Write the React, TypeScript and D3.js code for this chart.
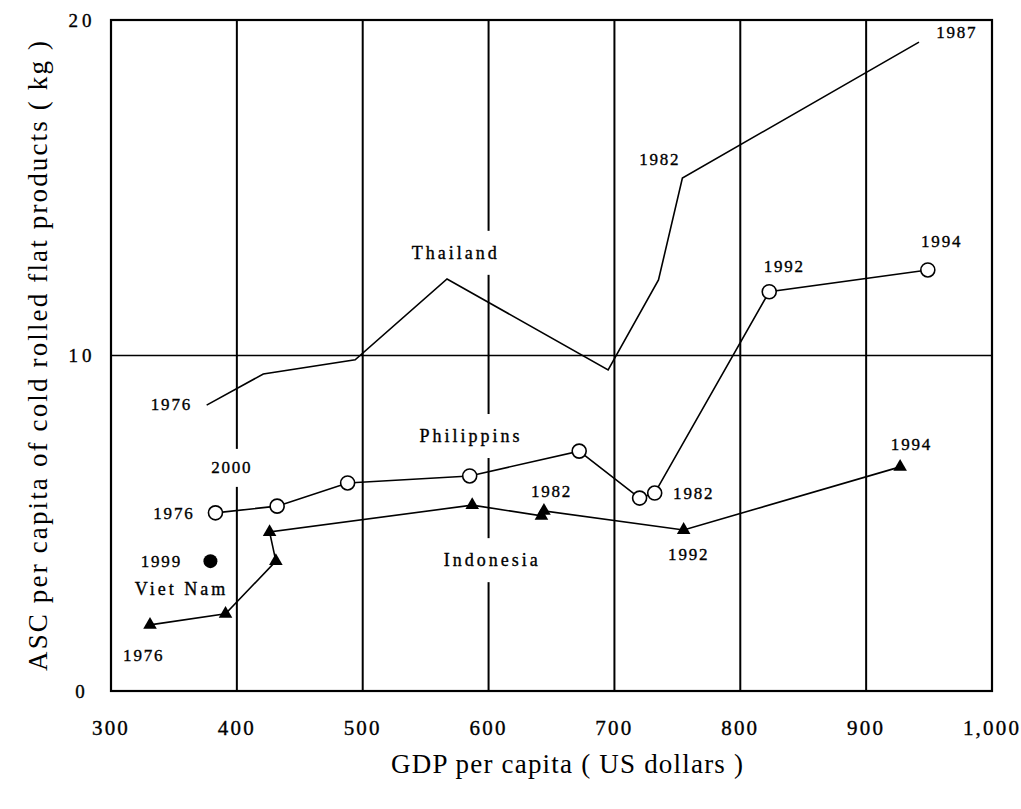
import React from "react";
import * as d3 from "d3";

// GDP per capita (US$) vs apparent steel consumption of cold rolled flat products (kg/capita)
const thailandGdp = [376, 421, 494, 567, 695, 735, 754, 942];
const thailandAsc = [8.52, 9.45, 9.87, 12.28, 9.57, 12.25, 15.29, 19.34];

const philippinesGdp = [383, 432, 488, 585, 672, 720, 732, 823, 949];
const philippinesAsc = [5.31, 5.51, 6.2, 6.41, 7.15, 5.75, 5.9, 11.9, 12.55];

const indonesiaGdp = [331, 391, 431, 426, 587, 642, 644, 755, 927];
const indonesiaAsc = [1.97, 2.3, 3.87, 4.74, 5.54, 5.22, 5.37, 4.8, 6.68];

const vietnamGdp = [379];
const vietnamAsc = [3.87];

const xTicks = [300, 400, 500, 600, 700, 800, 900, 1000];
const yTicks = [0, 10, 20];

// annotation text, anchored in data units
const nameLabels = [
  { text: "Thailand", gdp: 574, asc: 13.06 },
  { text: "Philippins", gdp: 586, asc: 7.6 },
  { text: "Indonesia", gdp: 603, asc: 3.9 },
  { text: "Viet Nam", gdp: 356, asc: 3.04 },
];
const yearLabels = [
  { text: "1976", gdp: 348, asc: 8.55 },
  { text: "1982", gdp: 736, asc: 15.83 },
  { text: "1987", gdp: 972, asc: 19.64 },
  { text: "1976", gdp: 350, asc: 5.28 },
  { text: "2000", gdp: 396, asc: 6.65 },
  { text: "1982", gdp: 763, asc: 5.9 },
  { text: "1992", gdp: 835, asc: 12.64 },
  { text: "1994", gdp: 960, asc: 13.41 },
  { text: "1999", gdp: 340, asc: 3.87 },
  { text: "1976", gdp: 326, asc: 1.07 },
  { text: "1982", gdp: 650, asc: 5.96 },
  { text: "1992", gdp: 759, asc: 4.08 },
  { text: "1994", gdp: 936, asc: 7.36 },
];

const W = 1021;
const H = 809;
const left = 111;
const right = 992;
const top = 20;
const bottom = 691;
const font = "'Liberation Serif', 'DejaVu Serif', serif";

const App = () => {
  const x = d3.scaleLinear().domain([300, 1000]).range([left, right]);
  const y = d3.scaleLinear().domain([0, 20]).range([bottom, top]);

  const line = d3
    .line<[number, number]>()
    .x((d) => x(d[0]))
    .y((d) => y(d[1]));

  const zip = (a: number[], b: number[]) => a.map((v, i) => [v, b[i]] as [number, number]);
  const thai = zip(thailandGdp, thailandAsc);
  const phil = zip(philippinesGdp, philippinesAsc);
  const indo = zip(indonesiaGdp, indonesiaAsc);
  const viet = zip(vietnamGdp, vietnamAsc);

  const triangle = d3.symbol().type(d3.symbolTriangle).size(80)();

  // white boxes behind text (they cut through the grid lines in the original)
  const boxes = [
    ...nameLabels.map((l) => ({ ...l, w: l.text.length * 12 + 10, h: 44 })),
    ...yearLabels.map((l) => ({ ...l, w: l.text.length * 10 + 6, h: 38 })),
  ];

  return (
    <svg
      width={W}
      height={H}
      style={{ position: "absolute", left: 0, top: 0, background: "#fff" }}
      fontFamily={font}
    >
      <rect width={W} height={H} fill="#fff" />

      {/* grid */}
      <g>
        {xTicks.slice(1, -1).map((t) => (
          <line key={t} x1={x(t)} x2={x(t)} y1={top} y2={bottom} stroke="#000" strokeWidth={2} />
        ))}
        <line x1={left} x2={right} y1={y(10)} y2={y(10)} stroke="#000" strokeWidth={1.3} />
      </g>

      {/* label backgrounds */}
      <g>
        {boxes.map((b, i) => (
          <rect
            key={i}
            x={x(b.gdp) - b.w / 2}
            y={y(b.asc) - b.h / 2}
            width={b.w}
            height={b.h}
            fill="#fff"
          />
        ))}
      </g>

      {/* frame */}
      <rect x={left} y={top} width={right - left} height={bottom - top} fill="none" stroke="#000" strokeWidth={2.2} />

      {/* series */}
      <g fill="none" stroke="#000" strokeWidth={1.6}>
        <path d={line(thai) || ""} />
        <path d={line(phil) || ""} />
        <path d={line(indo) || ""} />
      </g>
      <g>
        {phil.map((d, i) => (
          <circle key={i} cx={x(d[0])} cy={y(d[1])} r={7} fill="#fff" stroke="#000" strokeWidth={1.6} />
        ))}
        {indo.map((d, i) => (
          <path key={i} d={triangle || ""} transform={`translate(${x(d[0])},${y(d[1])})`} fill="#000" />
        ))}
        {viet.map((d, i) => (
          <circle key={i} cx={x(d[0])} cy={y(d[1])} r={7} fill="#000" />
        ))}
      </g>

      {/* annotations */}
      <g fill="#000" stroke="#000" strokeWidth={0.35} textAnchor="middle" dominantBaseline="central">
        {nameLabels.map((l, i) => (
          <text key={i} x={x(l.gdp)} y={y(l.asc)} fontSize={18} letterSpacing={3}>
            {l.text}
          </text>
        ))}
        {yearLabels.map((l, i) => (
          <text key={i} x={x(l.gdp)} y={y(l.asc)} fontSize={17} letterSpacing={1.8}>
            {l.text}
          </text>
        ))}
      </g>

      {/* axes labels */}
      <g fill="#000" stroke="#000" strokeWidth={0.35} textAnchor="middle" dominantBaseline="central">
        {xTicks.map((t) => (
          <text key={t} x={x(t)} y={728} fontSize={21} letterSpacing={2.2}>
            {d3.format(",")(t)}
          </text>
        ))}
        {yTicks.map((t) => (
          <text key={t} x={82} y={y(t)} fontSize={19} letterSpacing={4}>
            {t}
          </text>
        ))}
      </g>
      <text x={567} y={764} fontSize={27} textAnchor="middle" dominantBaseline="central" textLength={352} lengthAdjust="spacing">
        GDP per capita ( US dollars )
      </text>
      <text
        transform={`translate(38,356) rotate(-90)`}
        fontSize={27}
        textAnchor="middle"
        dominantBaseline="central"
        textLength={630}
        lengthAdjust="spacing"
      >
        ASC per capita of cold rolled flat products ( kg )
      </text>
    </svg>
  );
};

export default App;
